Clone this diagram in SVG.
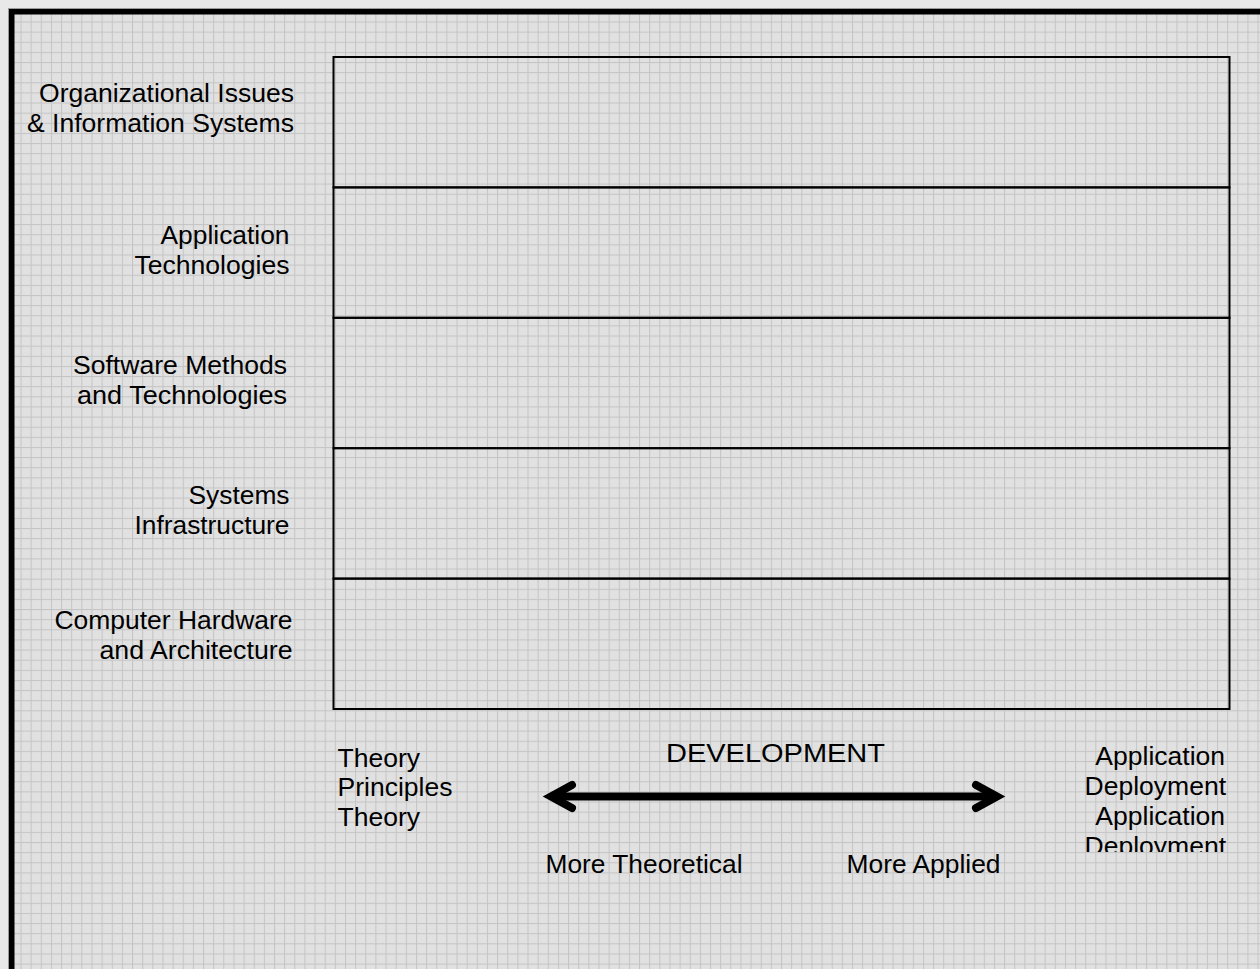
<svg xmlns="http://www.w3.org/2000/svg" width="1260" height="969" viewBox="0 0 1260 969">
<style>
text{font-family:"Liberation Sans",Arial,sans-serif;font-size:26.5px;fill:#000}
.r{text-anchor:end}
.band{fill:none;stroke:#000;stroke-width:2}
.arr{fill:none;stroke:#000;stroke-width:8;stroke-linecap:round;stroke-linejoin:miter}
</style>
<defs>
<pattern id="grid" patternUnits="userSpaceOnUse" x="20.5" y="21.5" width="10.14" height="10.13">
<rect width="10.14" height="10.13" fill="#e1e1e1"/>
<rect x="0" y="0" width="1" height="10.13" fill="#c4c4c4"/>
<rect x="0" y="0" width="10.14" height="1" fill="#c4c4c4"/>
</pattern>
<clipPath id="clipR"><rect x="1060" y="730" width="200" height="122"/></clipPath>
</defs>
<rect width="1260" height="969" fill="#e8e8e8"/>
<rect x="8" y="8" width="1260" height="969" fill="url(#grid)"/>
<rect x="11.5" y="11.5" width="1260" height="969" fill="none" stroke="#000" stroke-width="6"/>
<rect x="8.5" y="8.5" width="1260" height="969" fill="none" stroke="#9a9a9a" stroke-width="1"/>

<g id="bands">
<rect id="band-org" class="band" x="333.5" y="57" width="896" height="130.4"/>
<rect id="band-app" class="band" x="333.5" y="187.4" width="896" height="130.4"/>
<rect id="band-sw" class="band" x="333.5" y="317.8" width="896" height="130.4"/>
<rect id="band-sys" class="band" x="333.5" y="448.2" width="896" height="130.4"/>
<rect id="band-hw" class="band" x="333.5" y="578.6" width="896" height="130.4"/>
</g>

<g id="label-org"><text class="r" x="294" y="101.5" textLength="255" lengthAdjust="spacingAndGlyphs">Organizational Issues</text><text class="r" x="294" y="131.5" textLength="267" lengthAdjust="spacingAndGlyphs">&amp; Information Systems</text></g>
<g id="label-app"><text class="r" x="289.5" y="244" textLength="129" lengthAdjust="spacingAndGlyphs">Application</text><text class="r" x="289.5" y="274" textLength="155" lengthAdjust="spacingAndGlyphs">Technologies</text></g>
<g id="label-sw"><text class="r" x="287" y="374" textLength="214" lengthAdjust="spacingAndGlyphs">Software Methods</text><text class="r" x="287" y="404" textLength="210" lengthAdjust="spacingAndGlyphs">and Technologies</text></g>
<g id="label-sys"><text class="r" x="289.5" y="504" textLength="101" lengthAdjust="spacingAndGlyphs">Systems</text><text class="r" x="289.5" y="534" textLength="155" lengthAdjust="spacingAndGlyphs">Infrastructure</text></g>
<g id="label-hw"><text class="r" x="292.5" y="629" textLength="238" lengthAdjust="spacingAndGlyphs">Computer Hardware</text><text class="r" x="292.5" y="659" textLength="193" lengthAdjust="spacingAndGlyphs">and Architecture</text></g>

<g id="label-theory"><text x="337.5" y="766.5">Theory</text><text x="337.5" y="796">Principles</text><text x="337.5" y="826">Theory</text></g>
<g id="label-application" clip-path="url(#clipR)"><text class="r" x="1225" y="765">Application</text><text class="r" x="1226" y="795">Deployment</text><text class="r" x="1225" y="825">Application</text><text class="r" x="1226" y="855">Deployment</text></g>
<g id="label-development"><text x="666" y="762" font-size="27" textLength="219" lengthAdjust="spacingAndGlyphs">DEVELOPMENT</text></g>
<g id="label-theoretical"><text x="545.5" y="873" textLength="197" lengthAdjust="spacingAndGlyphs">More Theoretical</text></g>
<g id="label-applied"><text x="846.5" y="873" textLength="154" lengthAdjust="spacingAndGlyphs">More Applied</text></g>

<g id="connectors">
<line class="arr" x1="553" y1="796.5" x2="995" y2="796.5" stroke-linecap="butt"/>
<polyline class="arr" points="572,785 551,796.5 572,808"/>
<polyline class="arr" points="976,785 997,796.5 976,808"/>
</g>
</svg>
